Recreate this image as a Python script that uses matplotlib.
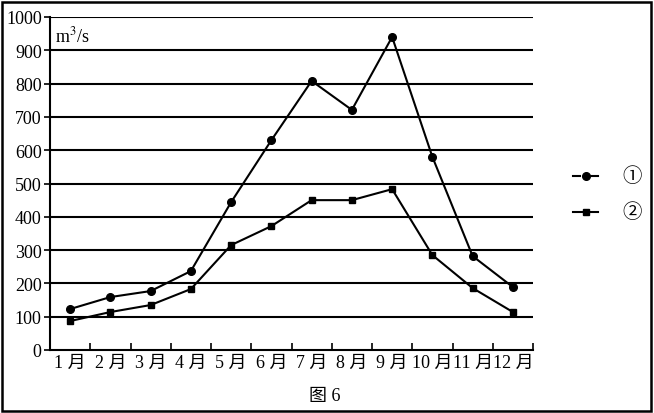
import matplotlib
matplotlib.use("Agg")
import matplotlib.pyplot as plt
from matplotlib.lines import Line2D
from matplotlib.patches import Rectangle

months = ["1 月", "2 月", "3 月", "4 月", "5 月", "6 月", "7 月", "8 月", "9 月", "10 月", "11 月", "12 月"]
series1 = [123, 159, 177, 237, 444, 630, 808, 721, 940, 580, 282, 189]
series2 = [87, 114, 135, 183, 315, 372, 450, 450, 483, 285, 186, 114]
labels = ["①", "②"]
yticks = [0, 100, 200, 300, 400, 500, 600, 700, 800, 900, 1000]

plt.rcParams['font.family'] = ['Liberation Serif', 'Noto Sans CJK SC', 'DejaVu Sans']
plt.rcParams['mathtext.fontset'] = 'stix'

fig = plt.figure(figsize=(6.54, 4.14), dpi=100)
ax = fig.add_axes([50/654, 63/414, (533-50)/654, (351-18)/414])

x = list(range(1, 13))
ax.plot(x, series1, color='black', lw=1.5, marker='o', ms=5.5, zorder=3)
ax.plot(x, series2, color='black', lw=1.5, marker='s', ms=5, zorder=3)

ax.set_xlim(0.5, 12.5)
ax.set_ylim(0, 1000)
ax.set_yticks(yticks)
ax.set_yticklabels([str(v) for v in yticks], fontsize=13)
for v in yticks[1:]:
    ax.axhline(v, color='black', lw=1.5, zorder=1)

ax.set_xticks([i + 0.5 for i in range(0, 13)])
ax.set_xticklabels([])
ax.set_xticks(x, minor=True)
ax.set_xticklabels(months, minor=True, fontsize=13)
ax.tick_params(axis='x', which='major', direction='in', length=5, width=1.2)
ax.tick_params(axis='x', which='minor', length=0, pad=3)
ax.tick_params(axis='y', direction='out', length=4, width=1.2, pad=2)

for s in ['top', 'right']:
    ax.spines[s].set_visible(False)
for s in ['left', 'bottom']:
    ax.spines[s].set_linewidth(1.5)

ax.text(0.01, 0.945, "m$^3$/s", transform=ax.transAxes, fontsize=13, va='center', ha='left')

# legend drawn manually at right
leg_y = [177, 213]
markers = ['o', 's']
segments = [[(573, 580), (591, 598)], [(573, 598)]]
for yy, mk, segs, lab in zip(leg_y, markers, segments, labels):
    yf = 1 - yy / 414
    for a, b in segs:
        fig.add_artist(Line2D([a/654, b/654], [yf, yf], transform=fig.transFigure,
                              color='black', lw=1.5))
    fig.add_artist(Line2D([585.5/654], [yf], transform=fig.transFigure, color='black',
                          marker=mk, ms=5.5 if mk == 'o' else 5, ls='none'))
    fig.text(632/654, yf, lab, ha='center', va='center', fontsize=14,
             family=['Noto Sans CJK SC', 'DejaVu Sans'], fontweight='light')

fig.text(325/654, 1 - 397/414, "图 6", ha='center', va='center', fontsize=13)

fig.patches.append(Rectangle((1.5/654, 2.5/414), 649/654, 409/414, transform=fig.transFigure,
                             fill=False, edgecolor='black', lw=1.8))

fig.savefig("out.png", dpi=100)
